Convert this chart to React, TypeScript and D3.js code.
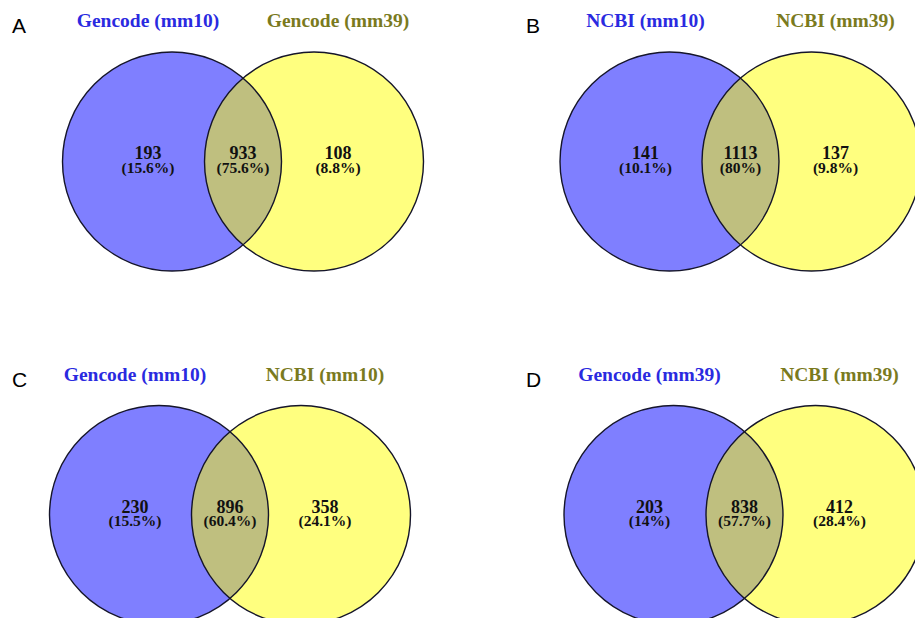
import React, { useEffect, useRef } from "react";
import * as d3 from "d3";

// Two-set overlap counts for each comparison
const panelLetters = ["A", "B", "C", "D"];
const leftNames = ["Gencode (mm10)", "NCBI (mm10)", "Gencode (mm10)", "Gencode (mm39)"];
const rightNames = ["Gencode (mm39)", "NCBI (mm39)", "NCBI (mm10)", "NCBI (mm39)"];
const leftOnly = [193, 141, 230, 203];
const shared = [933, 1113, 896, 838];
const rightOnly = [108, 137, 358, 412];

// Layout: centre of each panel's left circle and the panel letter anchor
const panelCenters: [number, number][] = [
  [172, 161.5],
  [669.5, 161.5],
  [159, 515],
  [673.5, 515],
];
const letterX = [12, 526, 12, 526];

const W = 915;
const H = 618;
const R = 109.5;
const D = 142; // distance between circle centres
const LABEL_SHIFT = 24;

const SERIF = "'Liberation Serif', 'Times New Roman', Times, serif";
const SANS = "'Liberation Sans', Arial, Helvetica, sans-serif";

const pctText = (v: number, total: number) => {
  const p = Math.round((v / total) * 1000) / 10;
  return `(${p}%)`;
};

export default function App() {
  const ref = useRef<SVGSVGElement | null>(null);

  useEffect(() => {
    const svg = d3.select(ref.current);
    svg.selectAll("*").remove();

    const panels = panelLetters.map((letter, i) => ({
      letter,
      left: leftNames[i],
      right: rightNames[i],
      a: leftOnly[i],
      ab: shared[i],
      b: rightOnly[i],
      cx: panelCenters[i][0],
      cy: panelCenters[i][1],
      lx: letterX[i],
    }));

    const g = svg
      .selectAll("g.panel")
      .data(panels)
      .join("g")
      .attr("class", "panel");

    // fills: translucent blue and yellow so the overlap mixes to olive
    g.append("circle")
      .attr("cx", (d) => d.cx)
      .attr("cy", (d) => d.cy)
      .attr("r", R)
      .attr("fill", "#0000ff")
      .attr("fill-opacity", 0.5);
    g.append("circle")
      .attr("cx", (d) => d.cx + D)
      .attr("cy", (d) => d.cy)
      .attr("r", R)
      .attr("fill", "#ffff00")
      .attr("fill-opacity", 0.5);

    // outlines
    [0, D].forEach((off) => {
      g.append("circle")
        .attr("cx", (d) => d.cx + off)
        .attr("cy", (d) => d.cy)
        .attr("r", R)
        .attr("fill", "none")
        .attr("stroke", "#15152a")
        .attr("stroke-width", 1.4);
    });

    const xs = (d: any) => [d.cx - LABEL_SHIFT, d.cx + D / 2, d.cx + D + LABEL_SHIFT];

    // count + percentage labels
    g.each(function (d: any) {
      const sel = d3.select(this);
      const total = d.a + d.ab + d.b;
      const vals = [d.a, d.ab, d.b];
      const px = xs(d);
      vals.forEach((v, k) => {
        sel
          .append("text")
          .attr("x", px[k])
          .attr("y", d.cy - 2.3)
          .attr("text-anchor", "middle")
          .attr("font-family", SERIF)
          .attr("font-weight", "bold")
          .attr("font-size", 18)
          .attr("fill", "#111")
          .text(String(v));
        sel
          .append("text")
          .attr("x", px[k])
          .attr("y", d.cy + 11.3)
          .attr("text-anchor", "middle")
          .attr("font-family", SERIF)
          .attr("font-weight", "bold")
          .attr("font-size", 15.5)
          .attr("fill", "#111")
          .text(pctText(v, total));
      });

      // set names
      sel
        .append("text")
        .attr("x", px[0])
        .attr("y", d.cy - 134.3)
        .attr("text-anchor", "middle")
        .attr("font-family", SERIF)
        .attr("font-weight", "bold")
        .attr("font-size", 19.5)
        .attr("fill", "#2a2ae0")
        .text(d.left);
      sel
        .append("text")
        .attr("x", px[2])
        .attr("y", d.cy - 134.3)
        .attr("text-anchor", "middle")
        .attr("font-family", SERIF)
        .attr("font-weight", "bold")
        .attr("font-size", 19.5)
        .attr("fill", "#7a7a1e")
        .text(d.right);

      // panel letter
      sel
        .append("text")
        .attr("x", d.lx)
        .attr("y", d.cy - 128.2)
        .attr("font-family", SANS)
        .attr("font-size", 21)
        .attr("fill", "#000")
        .text(d.letter);
    });
  }, []);

  return (
    <svg
      ref={ref}
      width={W}
      height={H}
      style={{ position: "absolute", left: 0, top: 0, background: "#fff" }}
    />
  );
}
